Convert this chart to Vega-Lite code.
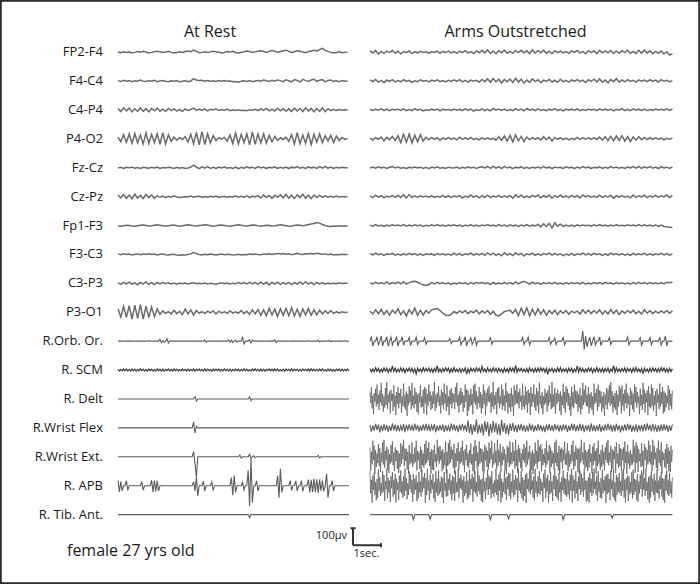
{
"$schema": "https://vega.github.io/schema/vega-lite/v6.json",
"width": 700, "height": 584,
"autosize": {"type": "fit", "contains": "padding"},
"padding": 0,
"background": "white",
"config": {"view": {"stroke": "#2a2a2a", "strokeWidth": 3.5}},
"datasets": {
"labels": [{"c":"FP2-F4","i":0},{"c":"F4-C4","i":1},{"c":"C4-P4","i":2},{"c":"P4-O2","i":3},{"c":"Fz-Cz","i":4},{"c":"Cz-Pz","i":5},{"c":"Fp1-F3","i":6},{"c":"F3-C3","i":7},{"c":"C3-P3","i":8},{"c":"P3-O1","i":9},{"c":"R.Orb. Or.","i":10},{"c":"R. SCM","i":11},{"c":"R. Delt","i":12},{"c":"R.Wrist Flex","i":13},{"c":"R.Wrist Ext.","i":14},{"c":"R. APB","i":15},{"c":"R. Tib. Ant.","i":16}],
"traces": [
{"i":0,"p":"rest","t0":0,"dt":0.1,"v":[0,-4,2,-3,1,-6,-2,3,-1,4, 0,-5,-2,2,5,1,-3,0,4,-2, -6,-3,1,-2,3,6,2,12,4,-4, -2,2,-3,1,5,2,-1,-5,-2,3, 0,4,-3,-6,-1,2,6,3,-2,1, 5,8,3,-2,4,9,5,-1,3,7, 11,4,-3,2,8,5,0,-4,3,6, 10,7,14,22,10,4,-2,-6,-3,1, -4,-2,0]},
{"i":1,"p":"rest","t0":0,"dt":0.1,"v":[2,-3,4,-2,3,-4,1,-2,5,-1, -3,2,-1,4,-4,0,3,-2,-5,1, -2,3,-6,-2,2,-4,0,14,6,2, 4,-1,3,-2,1,-3,2,-1,3,-2, 0,-5,-3,-7,-2,1,-3,2,-4,0, 3,-2,5,1,-3,4,-1,6,2,-4, 7,1,-5,8,3,-6,9,2,-3,6, 10,-2,4,8,-5,3,6,-3,1,-4, 2,-2,0]},
{"i":2,"p":"rest","t0":0,"dt":0.1,"v":[8,-10,12,-6,10,-12,6,-8,11,-9, 7,-12,9,-5,10,-8,4,-10,8,-4, 6,-7,3,-9,5,-4,2,10,-3,4, -2,5,-6,3,-1,6,-4,2,-3,4, -5,1,-3,0,-4,-2,-5,1,-2,3, -4,6,-3,8,-6,4,-7,9,-5,7, -8,6,-9,10,-7,8,-10,12,-6,9, -12,8,-9,13,-10,7,-5,3,-4,2, -2,1,-1]},
{"i":3,"p":"rest","t0":0,"dt":0.1,"v":[10,-18,24,-20,28,-26,30,-24,22,-30, 34,-28,26,-22,30,-32,36,-30,24,-16, 10,-8,6,-4,12,-18,26,-30,38,-36, 42,-34,30,-24,18,-10,6,-2,8,-14, 22,-28,34,-30,26,-22,30,-36,40,-32, 28,-24,30,-26,20,-18,14,-10,6,-4, 10,-16,24,-30,36,-28,22,-26,30,-34, 26,-20,28,-24,18,-12,20,-22,16,-10, 8,-4,2]},
{"i":4,"p":"rest","t0":0,"dt":0.1,"v":[-2,3,-4,2,-1,4,-3,1,-5,2, 0,-3,3,-2,4,-4,1,-2,3,-1, -4,2,-3,1,-5,-2,3,15,4,-6, 5,-3,6,-4,2,-5,4,-2,5,-3, 1,-4,3,-6,2,-3,5,-1,3,-4, 6,-2,4,-5,3,-2,5,-4,2,-3, 4,-5,3,-2,6,-3,2,-4,5,-1, 3,-4,6,-2,8,-3,4,-5,2,-2, 3,-1,0]},
{"i":5,"p":"rest","t0":0,"dt":0.1,"v":[10,-8,12,-10,8,-12,14,-9,7,-11, 12,-6,9,-10,6,-4,3,-6,2,-3, 4,-2,-5,-3,1,-2,3,-4,0,2, -3,1,-4,2,-2,3,-5,-1,2,-3, 1,-2,4,-4,2,-3,5,-6,3,-2, 6,-8,9,-5,7,-10,8,-4,10,-7, 12,-9,8,-12,10,-6,14,-10,8,-12, 9,-6,7,-4,5,-3,2,-4,3,-2, 1,-2,0]},
{"i":6,"p":"rest","t0":0,"dt":0.1,"v":[-2,-4,-1,2,0,-3,-5,-2,1,3, 0,-3,-1,2,4,1,-2,-4,-1,2, 3,-1,-4,-2,1,4,2,-1,-3,0, 2,5,3,-1,-4,-2,1,3,0,-3, -5,-2,1,4,2,-1,-3,0,3,1, -2,-4,-1,2,0,-3,-1,2,4,1, -2,-5,-3,0,3,1,-2,2,6,9, 12,18,14,6,0,-4,-6,-3,-5,-2, -4,-1,-3]},
{"i":7,"p":"rest","t0":0,"dt":0.1,"v":[3,-2,4,-1,2,-3,1,3,-2,2, 0,4,-1,2,-3,1,3,-2,-4,-1, 1,-3,-5,-2,-4,-1,3,12,5,-1, -3,1,-2,2,-1,-3,0,2,-2,1, -1,-4,-2,1,-3,0,-2,2,-1,3, 0,-2,3,1,4,-1,3,6,2,5, 1,4,-2,3,6,1,-1,4,2,5, 3,7,4,1,3,-2,2,-3,0,-2, 1,-1,0]},
{"i":8,"p":"rest","t0":0,"dt":0.1,"v":[4,-6,5,-3,7,-5,3,-8,6,-4, 8,-6,4,-7,5,-3,6,-2,3,-4, 2,-5,1,-3,2,-4,0,3,-2,1, -3,2,-4,1,-2,-5,-1,3,-2,2, -4,1,-3,4,-2,5,-3,6,-4,5, -6,7,-5,6,-8,5,-4,7,-6,4, -5,6,-7,5,-4,8,-6,9,-5,6, -7,5,-3,4,-5,2,-3,1,-2,2, -1,1,0]},
{"i":9,"p":"rest","t0":0,"dt":0.1,"v":[20,-28,34,-30,38,-40,42,-36,44,-40, 36,-32,30,-26,20,-12,8,-6,4,-10, 12,-8,6,-14,18,-10,14,-16,10,-6, 4,-8,6,-4,8,-10,6,-4,2,-6, 8,-5,3,-6,10,-8,6,-12,14,-10, 16,-18,14,-20,22,-16,18,-24,20,-18, 22,-20,26,-22,18,-24,20,-16,22,-18, 14,-16,12,-10,8,-6,10,-8,4,-6, 3,-2,0]},
{"i":10,"p":"rest","t0":0,"dt":0.05,"v":[0,0,1,0,0,-1,0,0,1,0, 0,0,-1,0,0,1,0,0,0,-1, 0,0,2,0,0,-1,0,0,1,0, 12,-10,4,-8,0,14,-12,2,0,0, 1,0,0,-1,0,0,0,1,0,0, 0,-1,0,0,0,0,1,0,0,0, 0,0,8,-7,0,0,0,0,-1,0, 0,0,1,0,0,0,-1,0,0,8, -6,7,-8,0,6,-5,0,0,0,22, -16,0,0,0,8,-9,6,0,0,0, 0,1,0,0,0,-1,0,0,0,0, 0,0,9,-8,0,0,0,1,0,0, 0,0,-1,0,0,0,1,0,0,0, 0,0,0,-1,0,0,3,-2,0,0, 0,0,0,5,-4,0,0,0,0,0, 0,5,-4,0,0,0,-1,0,0,0, 0,0,3,-2,0,0]},
{"i":11,"p":"rest","t0":0,"dt":0.05,"v":[5,-6,4,-5,7,-4,6,-5,4,-7, 6,-4,5,-6,4,-5,7,-3,5,-6, 4,-7,6,-4,5,-5,3,-6,7,-4, 5,-5,6,-7,4,-3,6,-5,5,-6, 7,-4,5,-6,3,-5,6,-4,4,-7, 6,-5,4,-4,7,-6,5,-3,6,-5, 4,-6,7,-5,5,-4,3,-7,6,-4, 5,-3,6,-6,4,-5,7,-4,5,-6, 6,-7,4,-5,6,-3,5,-6,4,-5, 7,-4,5,-6,3,-5,6,-4,7,-5, 4,-6,6,-5,5,-7,4,-3,6,-4, 5,-5,7,-4,6,-6,3,-5,5,-7, 6,-4,4,-6,7,-5,5,-4,4,-6, 5,-7,6,-3,4,-5,6,-6,7,-4, 4,-5,5,-6,6,-4,7,-5,3,-6, 6,-4,5,-7,4,-6,5,-3,6,-5, 5,-6,4,-5,6,-4]},
{"i":12,"p":"rest","t0":0,"dt":0.05,"v":[0,0,0,0,0,0,0,0,0,0, 0,0,0,0,0,0,0,0,0,0, 0,0,0,0,0,0,0,0,0,0, 0,0,0,0,0,0,0,0,0,0, 0,0,0,0,0,0,0,0,0,0, 0,0,0,0,0,14,-12,0,0,0, 0,0,0,0,0,0,0,0,0,0, 0,0,0,0,0,0,0,0,0,0, 0,0,0,0,0,0,0,0,0,0, 0,0,0,0,12,-10,0,0,0,0, 0,0,0,0,0,0,0,0,0,0, 0,0,0,0,0,0,0,0,0,0, 0,0,0,0,0,0,0,0,0,0, 0,0,0,0,0,0,0,0,0,0, 0,0,0,0,0,0,0,0,0,0, 0,0,0,0,0,0,0,0,0,0, 0,0,0,0,0,0]},
{"i":13,"p":"rest","t0":0,"dt":0.05,"v":[0,0,0,0,0,0,0,0,0,0, 0,0,0,0,0,0,0,0,0,0, 0,0,0,0,0,0,0,0,0,0, 0,0,0,0,0,0,0,0,0,0, 0,0,0,0,0,0,0,0,0,0, 0,0,0,0,36,-30,10,0,0,0, 0,0,0,0,0,0,0,0,0,0, 0,0,0,0,0,0,0,0,0,0, 0,0,0,0,0,0,0,0,0,0, 0,0,0,0,0,0,0,0,0,0, 0,0,0,0,0,0,0,0,0,0, 0,0,0,0,0,0,0,0,0,0, 0,0,0,0,0,0,0,0,0,0, 0,0,0,0,0,0,0,0,0,0, 0,0,0,0,0,0,0,0,0,0, 0,0,0,0,0,0,0,0,0,0, 0,0,0,0,0,0]},
{"i":14,"p":"rest","t0":0,"dt":0.05,"v":[0,0,0,0,0,0,0,0,0,0, 0,0,0,0,0,0,0,0,0,0, 0,0,0,0,0,0,0,0,0,0, 0,0,0,0,0,0,0,0,0,0, 0,0,0,0,0,0,0,0,0,0, 0,0,0,0,30,-40,-120,0,0,0, 0,0,0,0,0,0,0,0,0,0, 0,0,0,0,0,0,0,0,0,0, 0,0,0,0,0,0,0,10,-8,0, 0,0,0,0,14,-10,0,6,-5,0, 0,0,0,0,0,0,0,0,0,0, 0,0,0,0,0,0,0,0,0,0, 0,0,0,0,0,0,0,0,0,0, 0,0,0,0,0,0,0,0,0,0, 0,0,0,8,-6,0,0,0,0,0, 0,0,0,0,0,0,0,0,0,0, 0,0,0,0,0,0]},
{"i":15,"p":"rest","t0":0,"dt":0.05,"v":[30,-36,24,-30,0,0,30,-28,0,0, 0,0,0,0,0,0,0,24,-26,0, 0,0,0,0,32,-36,30,-34,28,-30, 0,0,0,0,0,0,0,0,0,0, 0,0,0,0,0,0,0,0,0,0, 0,0,0,0,24,-30,50,-60,0,0, 0,26,-30,0,0,0,0,22,-28,0, 0,0,0,0,0,0,0,0,0,0, 0,48,-56,60,-40,0,0,0,0,20, -24,0,0,90,-120,160,-100,0,0,28, -30,0,0,0,0,0,0,0,0,0, 0,0,0,0,60,-70,100,-40,0,0, 0,0,0,30,-28,0,0,28,-30,0, 0,30,-34,0,0,0,36,-40,34,-38, 40,-36,38,-42,36,-30,30,-34,0,70, -70,0,0,30,-32,0,0,0,0,0, 0,0,0,0,0,0]},
{"i":16,"p":"rest","t0":0,"dt":0.05,"v":[0,0,0,0,0,0,0,0,0,0, 0,0,0,0,0,0,0,0,0,0, 0,0,0,0,0,0,0,0,0,0, 0,0,0,0,0,0,0,0,0,0, 0,0,0,0,0,0,0,0,0,0, 0,0,0,0,0,0,0,0,0,0, 0,0,0,0,0,0,0,0,0,0, 0,0,0,0,0,0,0,0,0,0, 0,0,0,0,0,0,0,0,0,0, 0,0,0,0,-18,0,0,0,0,0, 0,0,0,0,0,0,0,0,0,0, 0,0,0,0,0,0,0,0,0,0, 0,0,0,0,0,0,0,0,0,0, 0,0,0,0,0,0,0,0,0,0, 0,0,0,0,0,0,0,0,0,0, 0,0,0,0,0,0,0,0,0,0, 0,0,0,0,0,0]},
{"i":0,"p":"arms","t0":9,"dt":0.1,"v":[8,-6,10,-12,4,-8,6,-2,9,-7, 5,-10,3,-4,6,-9,2,-5,4,-3, 1,-6,3,-2,5,-8,4,-3,6,-5, 2,-7,4,-3,8,-6,3,-9,7,-4, 10,-5,12,-8,6,-10,9,-4,11,-7, 4,-6,8,-3,10,-5,7,-9,12,-6, 9,-4,11,-8,5,-10,8,-3,6,-5, 3,-8,7,-2,9,-6,4,-10,8,-3, 6,-9,10,-5,7,-4,9,-8,5,-6, 8,-3,11,-7,4,-9,10,-6,12,-5, 7,-10,4,-8,6,-12,2,-18,-10]},
{"i":1,"p":"arms","t0":9,"dt":0.1,"v":[6,-4,9,-7,3,-10,5,-2,8,-6, 2,-5,7,-3,4,-8,1,-4,6,-2, 3,-6,5,-1,7,-4,2,-5,4,-3, 6,-2,8,-5,3,-7,5,-1,4,-6, 9,-4,12,-8,14,-6,10,-12,8,-5, 11,-9,15,-7,10,-13,6,-8,12,-4, 7,-10,5,-3,9,-6,4,-8,10,-5, 3,-7,6,-2,8,-4,5,-9,7,-3, 10,-6,12,-8,5,-11,9,-4,13,-7, 6,-5,8,-3,4,-7,6,-2,5,-4, 7,-3,5,-6,8,-2,4,-5,2]},
{"i":2,"p":"arms","t0":9,"dt":0.1,"v":[2,-4,5,-2,6,-3,4,-5,3,-1, 4,-3,6,-5,2,-4,7,-2,3,-6, 1,-3,4,-2,5,-6,3,-1,2,-4, 5,-2,3,-5,6,-3,4,-7,2,-3, 6,-4,3,-6,8,-2,5,-3,4,-5, 2,-4,7,-3,5,-6,9,-2,4,-5, 6,-3,2,-5,4,-2,7,-4,3,-6, 5,-2,4,-3,6,-5,2,-4,5,-1, 3,-5,6,-2,4,-3,5,-6,3,-2, 7,-4,3,-5,6,-2,4,-3,5,-4, 2,-3,5,-1,4,-2,6,-3,5]},
{"i":3,"p":"arms","t0":9,"dt":0.1,"v":[4,-8,6,-3,10,-12,8,-5,14,-10, 18,-22,26,-20,28,-24,20,-18,24,-14, 10,-6,8,-4,6,-9,5,-3,7,-2, 4,-6,9,-4,6,-3,8,-5,3,-7, 5,-2,6,-4,3,-8,12,-10,16,-14, 20,-18,22,-12,14,-16,10,-6,8,-4, 6,-8,12,-6,10,-14,8,-3,6,-5, 4,-7,3,-5,8,-4,6,-2,5,-3, 7,-5,10,-8,12,-10,14,-12,16,-10, 18,-14,12,-16,10,-8,12,-6,8,-5, 6,-4,5,-3,4,-6,3,-2,4]},
{"i":4,"p":"arms","t0":9,"dt":0.1,"v":[-2,4,-3,5,-1,3,-4,2,6,-2, 4,-3,1,-5,2,-2,4,-1,3,-4, 2,-6,4,-2,5,-3,1,-4,3,-1, -2,4,-5,2,-3,5,-1,3,-4,2, 5,-2,7,-4,9,-3,6,-5,8,-2, 4,-6,3,-2,5,-4,2,-5,3,-1, 4,-3,6,-2,3,-5,4,-1,2,-4, 5,-2,3,-6,4,-3,7,-2,4,-5, 3,-1,5,-4,2,-3,6,-2,4,-3, 2,-5,4,-1,6,-3,8,-4,5,-2, 7,-3,4,-5,6,-2,3,-4,5]},
{"i":5,"p":"arms","t0":9,"dt":0.1,"v":[4,-6,8,-3,5,-7,3,-2,6,-4, 7,-5,10,-8,12,-6,4,-3,5,-2, 3,-4,6,-5,2,-3,7,-4,5,-6, 4,-2,6,-8,3,-5,9,-3,6,-7, 5,-4,8,-6,3,-2,7,-5,4,-3, 6,-9,10,-4,8,-6,3,-5,7,-2, 9,-7,5,-3,8,-10,6,-4,9,-5, 4,-6,7,-3,5,-8,10,-2,6,-4, 3,-5,8,-6,4,-2,7,-9,5,-3, 6,-4,3,-7,9,-5,4,-2,8,-6, 5,-3,7,-4,6,-2,9,-5,8]},
{"i":6,"p":"arms","t0":9,"dt":0.1,"v":[2,-4,5,-3,1,-5,3,-2,4,-1, 3,-2,5,-4,2,-3,4,-1,3,-5, 1,-3,4,-2,5,-3,2,-4,3,-1, 4,-2,3,-5,2,-1,4,-3,2,-4, 3,-1,5,-3,2,-4,6,-2,3,-5, 4,-3,2,-5,3,-2,5,-4,2,-3, 6,-8,10,-6,12,-14,16,-4,8,-5, 3,-4,2,-5,4,-2,3,-1,2,-4, 4,-2,5,-3,2,-4,3,-2,4,-1, 2,-3,4,-1,3,-2,6,-3,4,-2, 3,-4,2,-5,3,-6,-8,-10,-12]},
{"i":7,"p":"arms","t0":9,"dt":0.1,"v":[5,-3,7,-2,4,-6,3,-1,6,-4, 2,-5,4,-3,6,-2,5,-4,3,-6, 4,-1,3,-5,6,-2,4,-3,2,-4, 7,-3,5,-6,4,-2,8,-4,5,-3, 6,-5,9,-3,7,-6,4,-8,10,-4, 5,-7,8,-3,6,-9,4,-2,7,-5, 3,-6,5,-2,8,-4,6,-3,4,-7, 2,-4,6,-5,3,-2,7,-3,5,-4, 6,-2,4,-6,3,-5,7,-1,4,-3, 5,-4,2,-6,6,-3,4,-2,7,-4, 3,-5,4,-2,6,-3,5,-4,3]},
{"i":8,"p":"arms","t0":9,"dt":0.1,"v":[3,-4,6,-2,5,-3,8,-5,4,-2, 7,-3,9,-5,4,9,12,6,-3,-9, -12,-8,4,-3,6,-2,5,-4,3,-6, 2,-4,5,-2,3,-5,4,-3,6,-1, 4,-2,3,-6,5,-3,2,-4,6,-3, 5,-4,8,-3,6,10,4,-5,7,-2, 3,-6,4,-2,5,-3,6,-4,2,-5, 4,-3,5,-2,3,-4,6,-5,2,-3, 5,-2,4,-3,6,-1,3,-5,4,-2, 3,-4,2,-5,4,-3,6,-2,5,-3, 4,-2,3,-4,5,-3,6,4,8]},
{"i":9,"p":"arms","t0":9,"dt":0.1,"v":[6,-10,14,-8,16,-12,10,-18,12,-6, 20,-14,8,-22,16,-10,24,-18,12,-16, 10,-6,14,18,22,10,-6,-16,-20,-12, 4,-6,8,-4,10,-8,6,-3,12,-10, 8,-5,10,-12,6,-18,-22,-10,4,8, 12,-6,16,-20,24,-14,26,-22,18,-16, 20,-12,14,-18,10,-8,12,-14,8,-6, 10,-12,6,-4,8,-10,14,-6,12,-8, 10,-6,14,-12,8,-10,16,-8,12,-14, 8,-6,10,-4,12,-8,6,-10,14,-6, 10,-8,6,-5,8,-4,10,-6,8]},
{"i":10,"p":"arms","t0":9,"dt":0.05,"v":[0,28,-30,0,0,26,-24,0,30,-28, 0,0,26,-30,0,24,-22,0,0,28, -30,0,0,26,-24,0,0,0,22,-26, 0,0,0,24,-20,0,0,0,0,20, -18,0,0,0,0,0,0,0,0,0, 0,0,0,0,0,0,0,16,-14,0, 0,0,0,0,24,-22,0,0,26,-28, 0,0,20,-18,0,22,-24,0,0,0, 0,0,0,0,0,0,20,-18,0,0, 0,0,0,0,0,0,0,0,0,0, 0,0,0,0,0,0,0,0,0,22, -20,0,0,24,-22,0,0,0,0,0, 0,0,0,0,0,0,0,0,20,-18, 0,0,18,-20,0,0,0,0,22,-20, 0,0,0,0,0,0,0,0,0,0, 0,0,60,-50,30,-34,0,24,-28,0, 26,-22,0,0,24,-26,0,0,0,0, 0,22,-20,0,0,0,0,0,0,0, 0,0,0,0,24,-22,0,0,0,0, 0,0,0,20,-24,0,0,0,0,0, 22,-20,0,0,0,0,0,24,-26,0, 0,30,-28,0,0,0,0]},
{"i":11,"p":"arms","t0":9,"dt":0.05,"v":[8,-12,6,-10,14,-7,9,-13,5,-11, 12,-6,10,-14,7,-9,24,-8,11,-12, 6,-10,13,-7,9,-15,8,-6,12,-9, 10,-13,7,-22,11,-8,6,-12,14,-7, 9,-6,12,-10,8,-14,10,-9,26,-11, 7,-12,9,-8,13,-6,11,-15,8,-10, 14,-9,6,-11,10,-13,7,-8,12,-24, 8,-14,11,-7,9,-10,13,-6,10,-12, 22,-8,7,-13,12,-9,6,-11,14,-7, 9,-12,10,-8,6,-14,11,-10,8,-13, 13,-7,12,-10,28,-12,9,-6,10,-9, 6,-11,8,-14,13,-8,7,-12,11,-10, 12,-9,14,-6,9,-13,10,-25,8,-7, 10,-12,6,-10,12,-9,14,-11,7,-8, 8,-13,11,-7,10,-14,6,-9,24,-12, 13,-8,9,-12,7,-10,12,-6,11,-15, 7,-10,14,-9,8,-11,10,-13,9,-7, 11,-14,6,-8,26,-12,13,-9,7,-10, 9,-7,12,-13,10,-6,8,-14,12,-9, 14,-10,7,-11,9,-22,11,-8,6,-12, 10,-9,13,-7,8,-12,9,-10,14,-6, 12,-11,8,-13,10,-9,7]},
{"i":12,"p":"arms","t0":9,"dt":0.025,"v":[40,-25,70,-55,20,-90,35,-15,60,-45, 85,-30,25,-65,50,-20,95,-40,30,-75, 15,-50,65,-35,100,-60,25,-20,45,-85, 55,-10,30,-70,80,-45,20,-95,40,-30, 70,-55,35,-25,60,-80,15,-40,90,-50, 25,-65,45,-100,30,-35,75,-20,50,-60, 95,-40,20,-55,65,-30,40,-75,25,-90, 35,-20,80,-50,15,-45,55,-85,70,-25, 60,-95,30,-40,85,-15,45,-65,20,-55, 45,-30,100,-70,25,-50,35,-20,75,-40, 20,-85,55,-35,40,-60,90,-25,30,-70, 80,-45,15,-95,50,-30,65,-55,35,-20, 30,-60,70,-20,95,-40,25,-80,45,-35, 65,-25,40,-75,20,-50,85,-15,55,-100, 50,-70,25,-45,60,-35,30,-90,80,-20, 90,-35,45,-60,15,-25,70,-50,40,-85, 25,-55,85,-30,50,-95,35,-40,60,-15, 75,-20,30,-80,40,-45,100,-60,20,-35, 40,-90,60,-25,70,-55,15,-30,85,-65, 55,-40,20,-70,95,-20,45,-85,30,-50, 35,-75,65,-45,25,-100,80,-35,50,-25, 85,-30,40,-55,60,-15,20,-65,90,-45, 20,-60,75,-35,45,-80,55,-25,35,-95, 70,-45,30,-20,85,-50,25,-70,65,-40, 45,-85,95,-30,20,-55,40,-90,15,-35, 60,-25,35,-75,50,-40,80,-20,30,-60, 100,-50,25,-45,65,-85,35,-30,55,-15, 30,-70,45,-95,20,-35,90,-55,40,-80, 75,-20,60,-40,35,-65,15,-100,70,-45, 40,-55,85,-25,50,-30,45,-75,25,-50, 65,-90,20,-60,95,-35,55,-20,80,-40, 25,-45,70,-85,30,-50,40,-65,15,-95, 90,-30,35,-20,60,-70,85,-45,50,-25, 45,-75,15,-55,40,-100,25,-35,65,-60, 55,-20,80,-40,100,-30,45,-80,20,-50, 35,-65,50,-95,25,-45,75,-15,60,-85, 80,-40,30,-70,55,-25,90,-55,35,-30, 20,-100,65,-35,45,-60,30,-75,85,-20, 70,-50,40,-25,15,-90,60,-40,25,-65, 95,-30,55,-80,35,-20,50,-95,75,-45, 30,-55,85,-40,65,-70,20,-35,45,-100, 60,-20,25,-60,90,-45,40,-30,70,-85, 45,-75,35,-50,20,-25,80,-65,55,-40, 30,-60,50]},
{"i":13,"p":"arms","t0":9,"dt":0.05,"v":[18,-22,14,-16,24,-12,20,-26,15,-19, 22,-14,17,-24,12,-18,26,-15,19,-21, 16,-20,13,-17,23,-25,18,-12,21,-16, 14,-19,25,-13,17,-22,12,-18,20,-15, 24,-16,19,-21,15,-12,22,-26,13,-17, 18,-14,21,-23,16,-19,12,-20,25,-13, 20,-17,14,-25,19,-15,23,-12,17,-22, 45,-30,22,-40,18,-24,50,-35,20,-28, 26,-45,40,-22,35,-50,24,-30,42,-26, 30,-38,22,-45,48,-24,28,-35,20,-40, 25,-18,30,-22,16,-26,20,-15,24,-19, 17,-23,14,-20,26,-16,19,-24,13,-18, 22,-15,18,-21,12,-25,20,-14,23,-17, 15,-20,24,-13,18,-22,16,-19,21,-12, 19,-24,13,-17,25,-15,22,-20,14,-18, 23,-16,20,-25,15,-13,18,-22,26,-19, 16,-21,14,-18,22,-24,12,-17,20,-15, 25,-13,19,-22,17,-20,23,-14,15,-26, 14,-18,21,-16,24,-12,19,-23,13,-20, 20,-25,16,-14,18,-21,22,-17,26,-13, 17,-19,23,-15,12,-24,16,-20,21,-18, 22,-14,18,-23,15,-17,20]},
{"i":14,"p":"arms","t0":9,"dt":0.025,"v":[55,-80,30,-45,95,-20,65,-100,40,-60, 20,-35,75,-55,50,-90,25,-30,85,-45, 100,-65,35,-20,60,-75,45,-95,15,-40, 70,-30,90,-50,25,-85,55,-25,40,-70, 35,-95,20,-60,80,-40,65,-15,100,-55, 50,-25,45,-75,30,-100,70,-45,20,-35, 85,-60,15,-40,55,-30,95,-80,35,-20, 25,-70,60,-90,40,-50,20,-65,75,-45, 95,-35,50,-20,85,-55,30,-100,45,-75, 40,-80,70,-30,15,-60,100,-25,55,-40, 65,-20,35,-85,45,-70,25,-50,90,-95, 30,-55,80,-45,100,-35,60,-15,40,-65, 75,-100,20,-60,50,-25,85,-75,30,-40, 55,-30,95,-50,35,-90,45,-20,70,-55, 20,-65,40,-35,80,-45,15,-85,60,-100, 100,-25,65,-70,25,-55,90,-40,50,-30, 45,-85,30,-95,70,-20,55,-60,35,-75, 85,-40,50,-15,95,-65,20,-45,80,-35, 35,-70,100,-55,40,-30,75,-90,25,-50, 60,-20,45,-80,15,-100,65,-35,55,-60, 90,-45,25,-40,85,-25,35,-70,100,-55, 40,-95,70,-30,50,-65,20,-85,45,-20, 75,-35,55,-60,95,-45,30,-15,65,-90, 25,-80,40,-100,20,-55,85,-40,35,-70, 100,-30,60,-25,75,-85,45,-50,15,-35, 50,-65,90,-45,30,-20,70,-95,55,-60, 35,-40,20,-75,85,-35,100,-55,25,-80, 65,-100,45,-30,55,-70,40,-20,90,-45, 20,-50,80,-85,35,-60,15,-40,70,-25, 95,-75,30,-55,65,-15,50,-90,45,-100, 55,-35,100,-20,25,-45,85,-70,40,-60, 30,-85,45,-65,75,-30,20,-95,60,-50, 80,-25,35,-100,50,-55,95,-40,15,-75, 40,-60,70,-45,30,-80,55,-20,85,-35, 100,-50,25,-30,65,-90,45,-70,35,-15, 60,-95,85,-40,20,-65,75,-55,50,-85, 45,-20,55,-75,90,-35,30,-100,70,-40, 25,-70,40,-50,15,-45,100,-30,60,-95, 85,-35,65,-90,45,-25,20,-60,80,-55, 35,-100,75,-20,55,-70,40,-45,95,-30, 70,-45,30,-85,100,-50,65,-15,25,-65, 50,-80,95,-35,40,-55,85,-100,30,-20, 20,-60,45,-70,75,-40,55,-85,35,-90, 65,-30,40]},
{"i":15,"p":"arms","t0":9,"dt":0.025,"v":[90,-45,35,-100,60,-25,75,-55,20,-85, 40,-70,95,-30,50,-60,15,-45,85,-35, 65,-90,25,-20,100,-75,45,-40,30,-95, 55,-15,80,-65,35,-50,70,-100,40,-25, 20,-85,60,-35,90,-45,25,-70,55,-60, 100,-30,45,-80,15,-55,85,-20,65,-40, 35,-95,70,-50,40,-25,60,-90,20,-75, 80,-40,25,-65,95,-35,50,-15,75,-100, 45,-55,100,-30,30,-85,65,-45,35,-20, 70,-75,20,-95,85,-40,40,-60,90,-50, 25,-35,55,-70,45,-100,80,-30,15,-65, 95,-60,40,-25,70,-50,30,-85,60,-45, 50,-90,85,-40,20,-35,100,-75,45,-15, 65,-25,35,-100,55,-60,25,-45,80,-80, 30,-70,95,-55,40,-20,70,-95,50,-35, 85,-45,20,-65,100,-30,60,-50,35,-90, 40,-100,75,-35,25,-80,45,-25,95,-55, 60,-20,50,-75,85,-45,15,-65,30,-40, 100,-55,35,-90,65,-30,80,-100,40,-70, 20,-35,90,-50,45,-85,55,-20,75,-60, 70,-80,25,-40,95,-65,35,-55,60,-25, 45,-95,100,-30,20,-45,85,-75,50,-90, 35,-60,65,-100,75,-20,40,-35,90,-50, 80,-25,30,-70,55,-85,100,-40,25,-65, 55,-45,85,-55,40,-30,20,-95,70,-15, 95,-75,45,-35,65,-100,30,-50,80,-40, 25,-90,60,-20,100,-60,55,-70,35,-85, 75,-40,20,-95,50,-25,90,-45,45,-55, 40,-65,80,-50,30,-80,65,-30,100,-100, 60,-30,35,-75,85,-45,25,-90,55,-20, 90,-55,70,-35,45,-65,100,-25,30,-95, 30,-85,50,-100,75,-40,40,-60,80,-45, 100,-20,25,-55,60,-90,85,-35,20,-70, 45,-75,95,-45,35,-30,55,-100,65,-50, 70,-40,40,-85,90,-20,30,-65,100,-80, 20,-95,65,-55,50,-35,75,-45,25,-60, 85,-30,100,-70,35,-100,45,-25,60,-90, 55,-50,20,-40,80,-75,95,-55,40,-35, 35,-85,70,-95,25,-45,65,-20,90,-65, 75,-25,45,-60,100,-30,20,-80,50,-100, 60,-70,85,-35,40,-55,70,-90,30,-40, 95,-45,30,-75,55,-20,80,-65,45,-85, 40,-100,65,-30,90,-50,35,-60,75,-45, 25,-70,50]},
{"i":16,"p":"arms","t0":9,"dt":0.05,"v":[0,0,0,0,0,0,0,0,0,0, 0,0,0,0,0,0,0,0,0,0, 0,0,0,0,0,0,0,0,0,0, 0,-30,0,0,0,0,0,0,0,0, 0,0,0,-28,0,0,0,0,0,0, 0,0,0,0,0,0,0,0,0,0, 0,0,0,0,0,0,0,0,0,0, 0,0,0,0,0,0,0,0,0,0, 0,0,0,0,0,0,-30,0,0,0, 0,0,0,0,0,0,0,0,0,-24, 0,0,0,0,0,0,0,0,0,0, 0,0,0,0,0,0,0,0,0,0, 0,0,0,0,0,0,0,0,0,0, 0,0,0,0,0,0,0,0,-30,0, 0,0,0,0,0,0,0,0,0,0, 0,0,0,0,0,0,0,0,0,0, 0,0,0,0,0,0,0,0,0,0, 0,0,0,-20,0,0,0,0,0,0, 0,0,0,0,0,0,0,0,0,0, 0,0,0,0,0,0,0,0,0,0, 0,0,0,0,0,0,0,0,0,0, 0,0,0,0,0,0,0]}
]
},
"layer": [
{
"data": {"name": "traces"},
"transform": [
{"flatten": ["v"]},
{"window": [{"op": "row_number", "as": "n"}], "groupby": ["i", "p"]},
{"calculate": "datum.t0 + (datum.n - 1) * datum.dt", "as": "t"},
{"calculate": "datum.v - 170 * datum.i", "as": "y"}
],
"encoding": {
"x": {"field": "t", "type": "quantitative", "scale": {"domain": [-4.214, 20.786], "nice": false, "zero": false}, "axis": null},
"y": {"field": "y", "type": "quantitative", "scale": {"domain": [-3128, 306], "nice": false, "zero": false}, "axis": null},
"detail": [{"field": "i", "type": "nominal"}, {"field": "p", "type": "nominal"}]
},
"layer": [
{
"transform": [{"filter": "datum.i <= 9"}],
"mark": {"type": "line", "color": "#6a6a6a", "strokeWidth": 1.5}
},
{
"transform": [{"filter": "datum.i >= 10 && datum.i != 11 && datum.dt >= 0.05"}],
"mark": {"type": "line", "color": "#5c5c5c", "strokeWidth": 1.1}
},
{
"transform": [{"filter": "datum.i == 11"}],
"mark": {"type": "line", "color": "#3c3c3c", "strokeWidth": 1.2}
},
{
"transform": [{"filter": "datum.dt < 0.05"}],
"mark": {"type": "line", "color": "#585858", "strokeWidth": 0.7}
}
]
},
{
"data": {"name": "labels"},
"transform": [{"calculate": "-170 * datum.i", "as": "y"}],
"mark": {"type": "text", "align": "right", "baseline": "middle", "font": "Open Sans", "fontSize": 13, "color": "#1a1a1a"},
"encoding": {
"x": {"datum": -0.536, "type": "quantitative"},
"y": {"field": "y", "type": "quantitative"},
"text": {"field": "c"}
}
},
{
"data": {"values": [{}]},
"mark": {"type": "text", "text": "At Rest", "align": "center", "baseline": "middle", "font": "Open Sans", "fontSize": 16, "color": "#1a1a1a"},
"encoding": {"x": {"datum": 3.286, "type": "quantitative"}, "y": {"datum": 118, "type": "quantitative"}}
},
{
"data": {"values": [{}]},
"mark": {"type": "text", "text": "Arms Outstretched", "align": "center", "baseline": "middle", "font": "Open Sans", "fontSize": 16, "color": "#1a1a1a"},
"encoding": {"x": {"datum": 14.196, "type": "quantitative"}, "y": {"datum": 118, "type": "quantitative"}}
},
{
"data": {"values": [{}]},
"mark": {"type": "text", "text": "female 27 yrs old", "align": "left", "baseline": "middle", "font": "Open Sans", "fontSize": 16, "color": "#1a1a1a"},
"encoding": {"x": {"datum": -1.821, "type": "quantitative"}, "y": {"datum": -2934, "type": "quantitative"}}
},
{
"data": {"values": [{}]},
"mark": {"type": "text", "text": "100µv", "align": "right", "baseline": "middle", "font": "Open Sans", "fontSize": 11, "color": "#1a1a1a"},
"encoding": {"x": {"datum": 8.179, "type": "quantitative"}, "y": {"datum": -2846, "type": "quantitative"}}
},
{
"data": {"values": [{}]},
"mark": {"type": "text", "text": "1sec.", "align": "center", "baseline": "middle", "font": "Open Sans", "fontSize": 11, "color": "#1a1a1a"},
"encoding": {"x": {"datum": 8.875, "type": "quantitative"}, "y": {"datum": -2952, "type": "quantitative"}}
},
{
"data": {"values": [{}]},
"mark": {"type": "rule", "color": "#333", "strokeWidth": 2},
"encoding": {"x": {"datum": 8.393, "type": "quantitative"}, "y": {"datum": -2900, "type": "quantitative"}, "y2": {"datum": -2800}}
},
{
"data": {"values": [{}]},
"mark": {"type": "rule", "color": "#333", "strokeWidth": 2},
"encoding": {"x": {"datum": 8.393, "type": "quantitative"}, "x2": {"datum": 9.393}, "y": {"datum": -2900, "type": "quantitative"}}
},
{
"data": {"values": [{}]},
"mark": {"type": "rule", "color": "#333", "strokeWidth": 2},
"encoding": {"x": {"datum": 8.30, "type": "quantitative"}, "x2": {"datum": 8.486}, "y": {"datum": -2800, "type": "quantitative"}}
},
{
"data": {"values": [{}]},
"mark": {"type": "rule", "color": "#333", "strokeWidth": 2},
"encoding": {"x": {"datum": 9.393, "type": "quantitative"}, "y": {"datum": -2912, "type": "quantitative"}, "y2": {"datum": -2888}}
}
]
}
